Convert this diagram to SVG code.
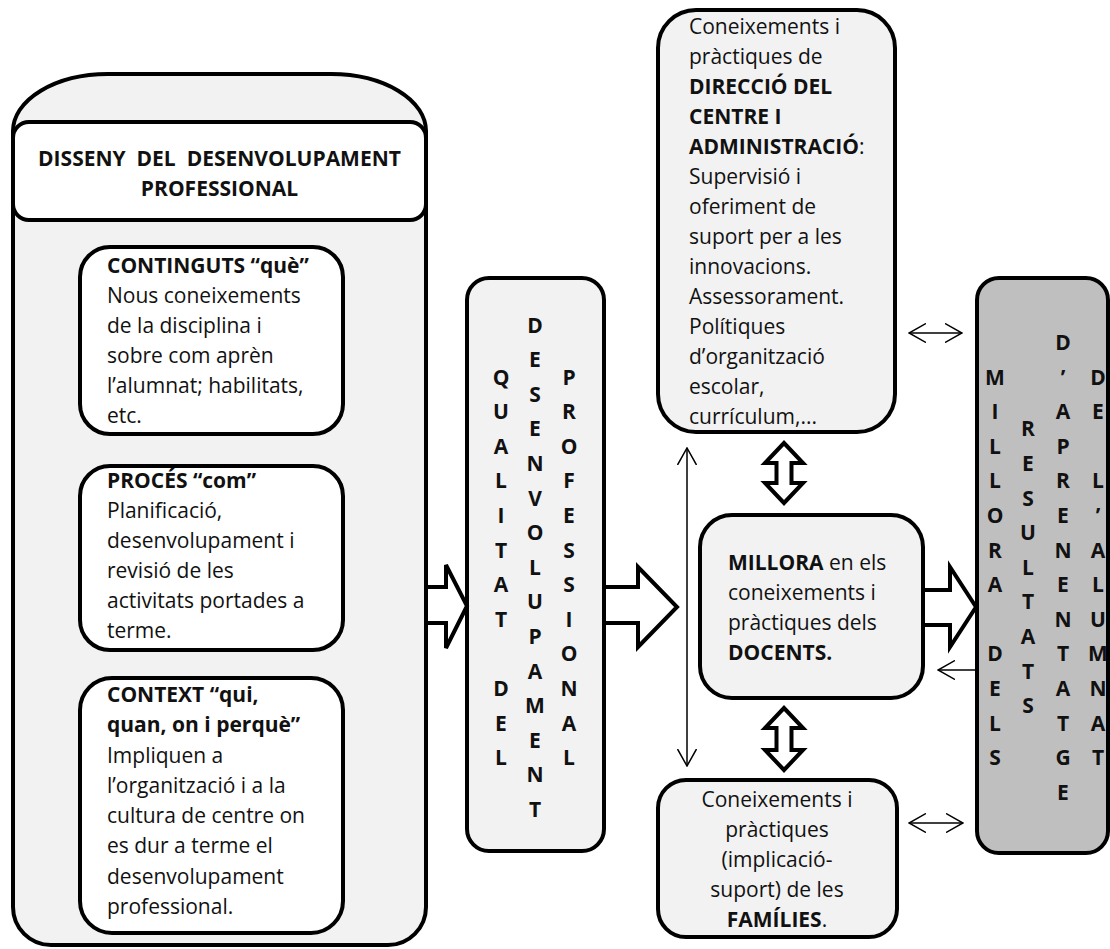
<svg xmlns="http://www.w3.org/2000/svg" width="1110" height="949" viewBox="0 0 1110 949">
<style>
.box{stroke:#000;stroke-width:4}
.lg{fill:#f2f2f2}
.wh{fill:#fff}
.gr{fill:#bfbfbf}
text{font-family:"Open Sans","Liberation Sans",sans-serif;font-size:21px;fill:#111}
.b{font-weight:bold}
.c{text-anchor:middle}
.v{font-weight:bold;text-anchor:middle}
.hollow{fill:#fff;stroke:#000;stroke-width:4;stroke-linejoin:miter}
.thin{fill:none;stroke:#000;stroke-width:1.5}
</style>
<defs>
<marker id="open" viewBox="0 0 18 20" refX="17" refY="10" markerWidth="18" markerHeight="20" markerUnits="userSpaceOnUse" orient="auto-start-reverse">
<path d="M0,0.5 L17,10 L0,19.5" fill="none" stroke="#000" stroke-width="1.5"/>
</marker>
</defs>
<rect width="1110" height="949" fill="#fff"/>

<g id="disseny">
<path class="box lg" d="M13,131 A95,57 0 0 1 108,74 L331,74 A95,57 0 0 1 426,131 L426,907 A38,38 0 0 1 388,945 L51,945 A38,38 0 0 1 13,907 Z"/>
<rect class="box wh" x="13" y="122" width="413" height="98" rx="16"/>
<text class="b c" x="219.5" y="165.5" xml:space="preserve" style="white-space:pre">DISSENY  DEL  DESENVOLUPAMENT</text>
<text class="b c" x="219.5" y="195.5">PROFESSIONAL</text>
</g>

<g id="continguts">
<rect class="box wh" x="80" y="247" width="263" height="187" rx="30"/>
<text x="107" y="273"><tspan class="b">CONTINGUTS “què”</tspan></text>
<text x="107" y="303">Nous coneixements</text>
<text x="107" y="333">de la disciplina i</text>
<text x="107" y="363">sobre com aprèn</text>
<text x="107" y="393">l’alumnat; habilitats,</text>
<text x="107" y="423">etc.</text>
</g>

<g id="proces">
<rect class="box wh" x="80" y="466" width="263" height="184" rx="30"/>
<text x="107" y="488"><tspan class="b">PROCÉS “com”</tspan></text>
<text x="107" y="518">Planificació,</text>
<text x="107" y="548">desenvolupament i</text>
<text x="107" y="578">revisió de les</text>
<text x="107" y="608">activitats portades a</text>
<text x="107" y="638">terme.</text>
</g>

<g id="context">
<rect class="box wh" x="80" y="678" width="263" height="255" rx="32"/>
<text x="107" y="702"><tspan class="b">CONTEXT “qui,</tspan></text>
<text x="107" y="732"><tspan class="b">quan, on i perquè”</tspan></text>
<text x="107" y="763">Impliquen a</text>
<text x="107" y="793">l’organització i a la</text>
<text x="107" y="823">cultura de centre on</text>
<text x="107" y="853">es dur a terme el</text>
<text x="107" y="884">desenvolupament</text>
<text x="107" y="914">professional.</text>
</g>

<g id="qualitat">
<rect class="box lg" x="467" y="278" width="137" height="573" rx="22"/>
<text class="v"><tspan x="501" y="384.5">Q</tspan><tspan x="501" y="419.1">U</tspan><tspan x="501" y="453.7">A</tspan><tspan x="501" y="488.3">L</tspan><tspan x="501" y="522.9">I</tspan><tspan x="501" y="557.5">T</tspan><tspan x="501" y="592.1">A</tspan><tspan x="501" y="626.7">T</tspan><tspan x="501" y="695.9">D</tspan><tspan x="501" y="730.5">E</tspan><tspan x="501" y="765.1">L</tspan></text>
<text class="v"><tspan x="535" y="332.5">D</tspan><tspan x="535" y="367.1">E</tspan><tspan x="535" y="401.7">S</tspan><tspan x="535" y="436.3">E</tspan><tspan x="535" y="470.9">N</tspan><tspan x="535" y="505.5">V</tspan><tspan x="535" y="540.1">O</tspan><tspan x="535" y="574.7">L</tspan><tspan x="535" y="609.3">U</tspan><tspan x="535" y="643.9">P</tspan><tspan x="535" y="678.5">A</tspan><tspan x="535" y="713.1">M</tspan><tspan x="535" y="747.7">E</tspan><tspan x="535" y="782.3">N</tspan><tspan x="535" y="816.9">T</tspan></text>
<text class="v"><tspan x="569" y="384.5">P</tspan><tspan x="569" y="419.1">R</tspan><tspan x="569" y="453.7">O</tspan><tspan x="569" y="488.3">F</tspan><tspan x="569" y="522.9">E</tspan><tspan x="569" y="557.5">S</tspan><tspan x="569" y="592.1">S</tspan><tspan x="569" y="626.7">I</tspan><tspan x="569" y="661.3">O</tspan><tspan x="569" y="695.9">N</tspan><tspan x="569" y="730.5">A</tspan><tspan x="569" y="765.1">L</tspan></text>
</g>

<g id="direccio">
<rect class="box lg" x="658" y="10" width="237" height="422" rx="38"/>
<text x="689" y="34">Coneixements i</text>
<text x="689" y="64">pràctiques de</text>
<text x="689" y="94" class="b">DIRECCIÓ DEL</text>
<text x="689" y="124" class="b">CENTRE I</text>
<text x="689" y="154"><tspan class="b">ADMINISTRACIÓ</tspan>:</text>
<text x="689" y="184">Supervisió i</text>
<text x="689" y="214">oferiment de</text>
<text x="689" y="244">suport per a les</text>
<text x="689" y="274">innovacions.</text>
<text x="689" y="304">Assessorament.</text>
<text x="689" y="334">Polítiques</text>
<text x="689" y="364">d’organització</text>
<text x="689" y="394">escolar,</text>
<text x="689" y="424">currículum,...</text>
</g>

<g id="millora">
<rect class="box lg" x="700" y="515" width="223" height="183" rx="32"/>
<text x="728" y="570"><tspan class="b">MILLORA</tspan> en els</text>
<text x="728" y="600">coneixements i</text>
<text x="728" y="630">pràctiques dels</text>
<text x="728" y="660" class="b">DOCENTS.</text>
</g>

<g id="families">
<rect class="box lg" x="658" y="780" width="239" height="157" rx="28"/>
<text class="c" x="777" y="807">Coneixements i</text>
<text class="c" x="777" y="837">pràctiques</text>
<text class="c" x="777" y="867">(implicació-</text>
<text class="c" x="777" y="897">suport) de les</text>
<text class="c" x="777" y="927"><tspan class="b">FAMÍLIES</tspan>.</text>
</g>

<g id="resultats">
<rect class="box gr" x="977" y="278" width="131" height="575" rx="22"/>
<text class="v"><tspan x="995" y="384.5">M</tspan><tspan x="995" y="419.1">I</tspan><tspan x="995" y="453.7">L</tspan><tspan x="995" y="488.3">L</tspan><tspan x="995" y="522.9">O</tspan><tspan x="995" y="557.5">R</tspan><tspan x="995" y="592.1">A</tspan><tspan x="995" y="661.3">D</tspan><tspan x="995" y="695.9">E</tspan><tspan x="995" y="730.5">L</tspan><tspan x="995" y="765.1">S</tspan></text>
<text class="v"><tspan x="1028" y="436.4">R</tspan><tspan x="1028" y="471.0">E</tspan><tspan x="1028" y="505.6">S</tspan><tspan x="1028" y="540.2">U</tspan><tspan x="1028" y="574.8">L</tspan><tspan x="1028" y="609.4">T</tspan><tspan x="1028" y="644.0">A</tspan><tspan x="1028" y="678.6">T</tspan><tspan x="1028" y="713.2">S</tspan></text>
<text class="v"><tspan x="1063" y="349.9">D</tspan><tspan x="1063" y="384.5">’</tspan><tspan x="1063" y="419.1">A</tspan><tspan x="1063" y="453.7">P</tspan><tspan x="1063" y="488.3">R</tspan><tspan x="1063" y="522.9">E</tspan><tspan x="1063" y="557.5">N</tspan><tspan x="1063" y="592.1">E</tspan><tspan x="1063" y="626.7">N</tspan><tspan x="1063" y="661.3">T</tspan><tspan x="1063" y="695.9">A</tspan><tspan x="1063" y="730.5">T</tspan><tspan x="1063" y="765.1">G</tspan><tspan x="1063" y="799.7">E</tspan></text>
<text class="v"><tspan x="1098" y="384.5">D</tspan><tspan x="1098" y="419.1">E</tspan><tspan x="1098" y="488.3">L</tspan><tspan x="1098" y="522.9">’</tspan><tspan x="1098" y="557.5">A</tspan><tspan x="1098" y="592.1">L</tspan><tspan x="1098" y="626.7">U</tspan><tspan x="1098" y="661.3">M</tspan><tspan x="1098" y="695.9">N</tspan><tspan x="1098" y="730.5">A</tspan><tspan x="1098" y="765.1">T</tspan></text>
</g>

<g id="connectors">
<path class="hollow" d="M426,587 L446,587 L446,565 L467,606 L446,648 L446,623 L426,623 Z"/>
<path class="hollow" d="M604,587 L638,587 L638,567 L677,607 L638,647 L638,623 L604,623 Z"/>
<path class="hollow" d="M923,590 L950,590 L950,567 L976,607 L950,647 L950,625 L923,625 Z"/>
<path class="hollow" d="M784,443 L803,463 L791.5,463 L791.5,483 L803,483 L784,503 L765,483 L776.5,483 L776.5,463 L765,463 Z"/>
<path class="hollow" d="M784,708 L803,728 L791.5,728 L791.5,750 L803,750 L784,770 L765,750 L776.5,750 L776.5,728 L765,728 Z"/>
<line class="thin" x1="687" y1="448" x2="687" y2="766" marker-start="url(#open)" marker-end="url(#open)"/>
<line class="thin" x1="909" y1="333" x2="962" y2="333" marker-start="url(#open)" marker-end="url(#open)"/>
<line class="thin" x1="909" y1="823" x2="963" y2="823" marker-start="url(#open)" marker-end="url(#open)"/>
<line class="thin" x1="975" y1="670" x2="938" y2="670" marker-end="url(#open)"/>
</g>
</svg>
